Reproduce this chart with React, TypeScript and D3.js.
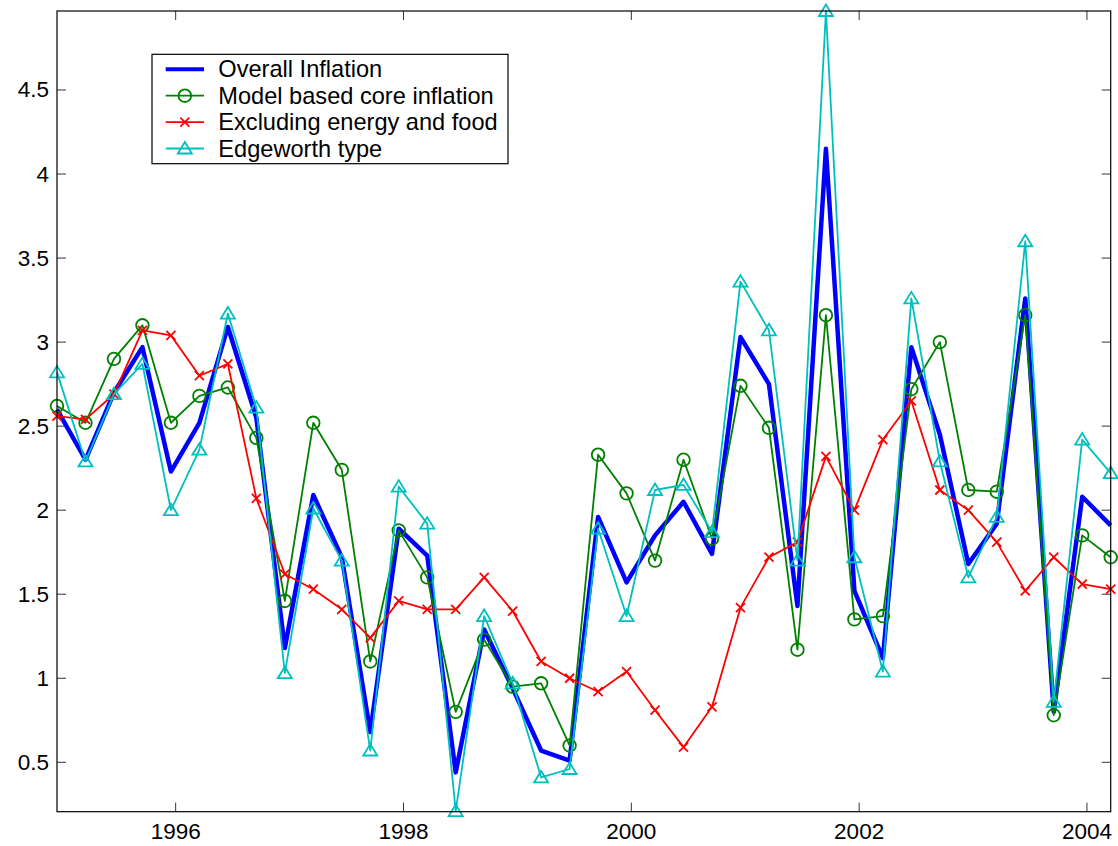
import { line, scaleLinear } from "d3";

const periods = [
  "1994-12", "1995-03", "1995-06", "1995-09", "1995-12", "1996-03", "1996-06", "1996-09",
  "1996-12", "1997-03", "1997-06", "1997-09", "1997-12", "1998-03", "1998-06", "1998-09",
  "1998-12", "1999-03", "1999-06", "1999-09", "1999-12", "2000-03", "2000-06", "2000-09",
  "2000-12", "2001-03", "2001-06", "2001-09", "2001-12", "2002-03", "2002-06", "2002-09",
  "2002-12", "2003-03", "2003-06", "2003-09", "2003-12", "2004-03"
];

const overall = [
  2.6, 2.3, 2.7, 2.97, 2.23, 2.52, 3.09, 2.55, 1.18, 2.09, 1.72, 0.68, 1.89, 1.73, 0.44, 1.29,
  0.94, 0.57, 0.51, 1.96, 1.57, 1.85, 2.05, 1.74, 3.03, 2.75, 1.43, 4.15, 1.52, 1.12, 2.97, 2.45,
  1.68, 1.92, 3.26, 0.8, 2.08, 1.91
];
const modelCore = [
  2.62, 2.52, 2.9, 3.1, 2.52, 2.68, 2.73, 2.43, 1.46, 2.52, 2.24, 1.1, 1.88, 1.6, 0.8, 1.23,
  0.95, 0.97, 0.6, 2.33, 2.1, 1.7, 2.3, 1.83, 2.74, 2.49, 1.17, 3.16, 1.35, 1.37, 2.72, 3.0,
  2.12, 2.11, 3.16, 0.78, 1.85, 1.72
];
const exEnergyFood = [
  2.56, 2.54, 2.69, 3.07, 3.04, 2.8, 2.87, 2.07, 1.62, 1.53, 1.41, 1.24, 1.46, 1.41, 1.41, 1.6,
  1.4, 1.1, 1.0, 0.92, 1.04, 0.81, 0.59, 0.83, 1.42, 1.72, 1.81, 2.32, 2.0, 2.42, 2.65, 2.12,
  2.0, 1.81, 1.52, 1.72, 1.56, 1.53
];
const edgeworth = [
  2.82, 2.29, 2.69, 2.87, 2.0, 2.36, 3.17, 2.61, 1.03, 2.01, 1.7, 0.57, 2.14, 1.92, 0.21, 1.37,
  0.97, 0.41, 0.46, 1.89, 1.37, 2.12, 2.15, 1.87, 3.36, 3.07, 1.7, 4.97, 1.72, 1.04, 3.26, 2.29,
  1.6, 1.96, 3.6, 0.86, 2.42, 2.22
];

const xTicks = [1996, 1998, 2000, 2002, 2004];
const yTicks = [0.5, 1, 1.5, 2, 2.5, 3, 3.5, 4, 4.5];
const yDomain = [0.206, 4.97];

const seriesList = [
  { name: "Overall Inflation", values: overall, color: "#0000ff", width: 4.5, marker: "none" },
  { name: "Model based core inflation", values: modelCore, color: "#008000", width: 1.8, marker: "circle" },
  { name: "Excluding energy and food", values: exEnergyFood, color: "#ff0000", width: 1.8, marker: "x" },
  { name: "Edgeworth type", values: edgeworth, color: "#00bfbf", width: 1.8, marker: "triangle" }
];

const width = 1118;
const height = 846;
const plotLeft = 57;
const plotRight = 1110.7;
const plotTop = 11;
const plotBottom = 811.7;
const tickLen = 9;
const font = "'Liberation Sans', Arial, Helvetica, sans-serif";

const toYear = (p: string) => {
  const [y, m] = p.split("-").map(Number);
  return y + (m - 0.5) / 12;
};

function Marker({ kind, x, y, color }: { kind: string; x: number; y: number; color: string }) {
  if (kind === "circle") {
    return <circle cx={x} cy={y} r={6.3} fill="none" stroke={color} strokeWidth={1.8} />;
  }
  if (kind === "x") {
    const s = 4.5;
    return (
      <path
        d={`M${x - s},${y - s}L${x + s},${y + s}M${x - s},${y + s}L${x + s},${y - s}`}
        stroke={color}
        strokeWidth={1.8}
        fill="none"
      />
    );
  }
  if (kind === "triangle") {
    return (
      <path
        d={`M${x},${y - 6.5}L${x + 7},${y + 5}L${x - 7},${y + 5}Z`}
        stroke={color}
        strokeWidth={1.8}
        fill="none"
        strokeLinejoin="miter"
      />
    );
  }
  return null;
}

function App() {
  const xs = periods.map(toYear);
  const xScale = scaleLinear().domain([xs[0], xs[xs.length - 1]]).range([plotLeft, plotRight]);
  const yScale = scaleLinear().domain(yDomain).range([plotBottom, plotTop]);

  const legendX = 152;
  const legendY = 54.3;
  const legendW = 356;
  const legendH = 109.4;
  const rowGap = 26.4;

  return (
    <div style={{ position: "absolute", left: 0, top: 0, width, height, background: "#fff" }}>
      <svg width={width} height={height} style={{ display: "block" }}>
        <rect x={0} y={0} width={width} height={height} fill="#fff" />
        {/* ticks */}
        {xTicks.map((t) => (
          <g key={`xt-${t}`}>
            <line x1={xScale(t)} x2={xScale(t)} y1={plotBottom} y2={plotBottom - tickLen} stroke="#333" strokeWidth={1} />
            <line x1={xScale(t)} x2={xScale(t)} y1={plotTop} y2={plotTop + tickLen} stroke="#333" strokeWidth={1} />
            <text
              x={xScale(t)}
              y={plotBottom + 27.5}
              textAnchor="middle"
              fontFamily={font}
              fontSize={22.5}
              fill="#000"
            >
              {t}
            </text>
          </g>
        ))}
        {yTicks.map((t) => (
          <g key={`yt-${t}`}>
            <line x1={plotLeft} x2={plotLeft + tickLen} y1={yScale(t)} y2={yScale(t)} stroke="#333" strokeWidth={1} />
            <line x1={plotRight} x2={plotRight - tickLen} y1={yScale(t)} y2={yScale(t)} stroke="#333" strokeWidth={1} />
            <text
              x={plotLeft - 8}
              y={yScale(t)}
              textAnchor="end"
              dominantBaseline="central"
              fontFamily={font}
              fontSize={22.5}
              fill="#000"
            >
              {t}
            </text>
          </g>
        ))}
        {/* series */}
        {seriesList.map((s) => {
          const path =
            line<number>()
              .x((_, i) => xScale(xs[i]))
              .y((d) => yScale(d))(s.values) ?? "";
          return (
            <g key={s.name}>
              <path d={path} fill="none" stroke={s.color} strokeWidth={s.width} strokeLinejoin="round" />
              {s.values.map((v, i) => (
                <Marker key={i} kind={s.marker} x={xScale(xs[i])} y={yScale(v)} color={s.color} />
              ))}
            </g>
          );
        })}
        {/* axes box */}
        <rect
          x={plotLeft}
          y={plotTop}
          width={plotRight - plotLeft}
          height={plotBottom - plotTop}
          fill="none"
          stroke="#000"
          strokeWidth={1.2}
        />
        {/* legend */}
        <rect x={legendX} y={legendY} width={legendW} height={legendH} fill="#fff" stroke="#000" strokeWidth={1.2} />
        {seriesList.map((s, i) => {
          const cy = legendY + 15 + i * rowGap;
          const x1 = legendX + 13.7;
          const x2 = legendX + 52;
          return (
            <g key={`lg-${s.name}`}>
              <line x1={x1} x2={x2} y1={cy} y2={cy} stroke={s.color} strokeWidth={s.width === 4.5 ? 4 : 1.8} />
              <Marker kind={s.marker} x={(x1 + x2) / 2} y={cy} color={s.color} />
              <text
                x={legendX + 66.3}
                y={cy}
                dominantBaseline="central"
                fontFamily={font}
                fontSize={23.6}
                fill="#000"
              >
                {s.name}
              </text>
            </g>
          );
        })}
      </svg>
    </div>
  );
}

export default App;
